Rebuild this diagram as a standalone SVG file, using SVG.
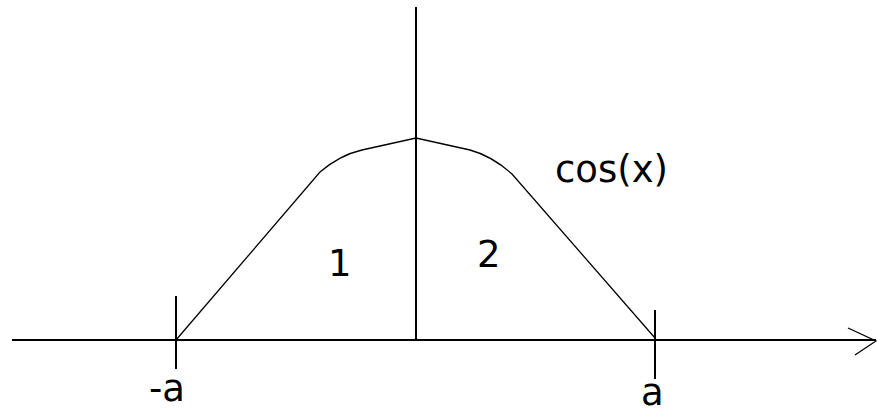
<svg xmlns="http://www.w3.org/2000/svg" width="877" height="413" viewBox="0 0 877 413">
<style>
.ax{stroke:#000;stroke-width:2;fill:none}
.cv{stroke:#000;stroke-width:1.3;fill:none}
.t{font-family:"DejaVu Sans",sans-serif;font-size:37px;fill:#000}
</style>
<rect width="877" height="413" fill="#fff"/>
<g id="axes">
<line class="ax" x1="12" y1="340" x2="876" y2="340"/>
<polyline class="cv" points="848,328 876,341 855,355"/>
<line class="ax" x1="416" y1="7" x2="416" y2="340"/>
<line class="ax" x1="176" y1="296" x2="176" y2="369"/>
<line class="ax" x1="655" y1="310" x2="655" y2="379"/>
</g>
<g id="curve">
<path class="cv" d="M176,340 L320,172 Q340,155 362,150 L416,138 L470,150 Q492,156 512,174 L655,338"/>
</g>
<g id="labels">
<text class="t" x="149" y="401">-a</text>
<text class="t" x="641" y="405">a</text>
<text class="t" x="555" y="182">cos(x)</text>
<text class="t" x="328" y="276">1</text>
<text class="t" x="477" y="267">2</text>
</g>
</svg>
